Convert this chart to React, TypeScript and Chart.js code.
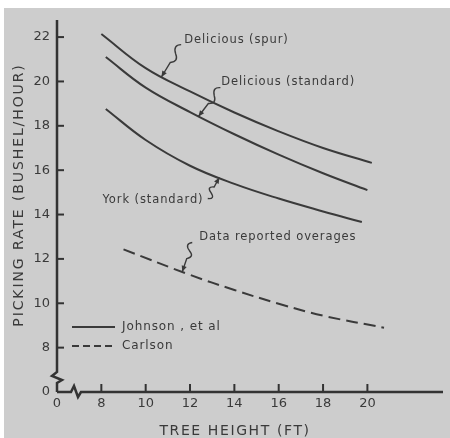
import React, { useEffect, useRef } from 'react';
import { Chart, registerables } from 'chart.js';

Chart.register(...registerables);

// ---- data (x = tree height ft, y = picking rate bushel/hour) ----
// value 6 on both axes stands for the "0" of the broken axes
const spurHeight = [8, 10, 12, 14, 16, 18, 20.2];
const spurRate = [22.14, 20.6, 19.55, 18.6, 17.75, 17.0, 16.33];
const standardHeight = [8.2, 10, 12, 14, 16, 18, 20];
const standardRate = [21.1, 19.72, 18.62, 17.62, 16.7, 15.86, 15.1];
const yorkHeight = [8.2, 10, 12, 14, 16, 18, 19.75];
const yorkRate = [18.76, 17.36, 16.2, 15.38, 14.72, 14.14, 13.66];
const carlsonHeight = [9, 12, 14, 16, 18, 20.75];
const carlsonRate = [12.43, 11.28, 10.6, 9.98, 9.44, 8.9];

const xTickValues = [6, 8, 10, 12, 14, 16, 18, 20];
const xTickLabels = ['0', '8', '10', '12', '14', '16', '18', '20'];
const yTickValues = [6, 8, 10, 12, 14, 16, 18, 20, 22];
const yTickLabels = ['0', '8', '10', '12', '14', '16', '18', '20', '22'];

const annotationTexts = ['Delicious (spur)', 'Delicious (standard)', 'York (standard)', 'Data reported overages'];
const legendTexts = ['Johnson , et al', 'Carlson'];
const xTitle = 'TREE HEIGHT (FT)';
const yTitle = 'PICKING RATE (BUSHEL/HOUR)';

// annotation placement (data coords): text left/middle, squiggle start, arrow tip
const annotationLayout = [
  { text: [11.74, 21.86], start: [11.6, 21.66], tip: [10.71, 20.2] },
  { text: [13.41, 19.97], start: [13.37, 19.72], tip: [12.38, 18.42] },
  { text: [8.05, 14.66], start: [12.8, 14.72], tip: [13.32, 15.67] },
  { text: [12.42, 13.0], start: [12.1, 12.74], tip: [11.65, 11.42] },
];

const INK = '#3a3a3a';
const FONT = '"DejaVu Sans", sans-serif';

function pts(xs: number[], ys: number[]) {
  return xs.map((x, i) => ({ x, y: ys[i] }));
}

const decorPlugin = {
  id: 'decor',
  beforeDraw(chart: any) {
    const { ctx, width, height } = chart;
    ctx.save();
    ctx.fillStyle = '#ffffff';
    ctx.fillRect(0, 0, width, height);
    ctx.fillStyle = '#cdcdcd';
    ctx.fillRect(4, 8, width - 4, height - 8);
    ctx.restore();
  },
  afterDraw(chart: any) {
    const { ctx, chartArea } = chart;
    const xs = chart.scales.x;
    const ys = chart.scales.y;
    const L = chartArea.left;
    const B = chartArea.bottom;
    ctx.save();
    ctx.strokeStyle = '#333333';
    ctx.lineCap = 'butt';
    ctx.lineJoin = 'miter';
    ctx.lineWidth = 2.5;
    // y axis with break
    ctx.beginPath();
    ctx.moveTo(L, chartArea.top);
    ctx.lineTo(L, B - 20);
    ctx.lineTo(L - 5, B - 16);
    ctx.lineTo(L + 5, B - 12);
    ctx.lineTo(L, B - 9);
    ctx.lineTo(L, B);
    ctx.stroke();
    // x axis with break
    ctx.beginPath();
    ctx.moveTo(L, B);
    ctx.lineTo(L + 14, B);
    ctx.lineTo(L + 17, B - 6);
    ctx.lineTo(L + 21, B + 5);
    ctx.lineTo(L + 24, B);
    ctx.lineTo(chartArea.right, B);
    ctx.stroke();
    // inward ticks
    ctx.lineWidth = 2;
    yTickValues.slice(1).forEach((v) => {
      const y = ys.getPixelForValue(v);
      ctx.beginPath();
      ctx.moveTo(L, y);
      ctx.lineTo(L + 7, y);
      ctx.stroke();
    });
    xTickValues.slice(1).forEach((v) => {
      const x = xs.getPixelForValue(v);
      ctx.beginPath();
      ctx.moveTo(x, B);
      ctx.lineTo(x, B - 8);
      ctx.stroke();
    });

    // titles
    ctx.fillStyle = INK;
    ctx.textBaseline = 'middle';
    ctx.textAlign = 'center';
    ctx.font = `14px ${FONT}`;
    (ctx as any).letterSpacing = '1.6px';
    ctx.fillText(xTitle, 235, 431);
    ctx.save();
    ctx.translate(19, 195);
    ctx.rotate(-Math.PI / 2);
    (ctx as any).letterSpacing = '1.9px';
    ctx.fillText(yTitle, 0, 0);
    ctx.restore();

    // annotations
    ctx.font = `11.5px ${FONT}`;
    (ctx as any).letterSpacing = '0.9px';
    ctx.textAlign = 'left';
    annotationLayout.forEach((a, i) => {
      const tx = xs.getPixelForValue(a.text[0]);
      const ty = ys.getPixelForValue(a.text[1]);
      ctx.fillText(annotationTexts[i], tx, ty);
      const sx = xs.getPixelForValue(a.start[0]);
      const sy = ys.getPixelForValue(a.start[1]);
      const px = xs.getPixelForValue(a.tip[0]);
      const py = ys.getPixelForValue(a.tip[1]);
      const dx = px - sx;
      const dy = py - sy;
      const len = Math.hypot(dx, dy);
      const ux = dx / len;
      const uy = dy / len;
      const nx = -uy;
      const ny = ux;
      ctx.lineWidth = 1.4;
      ctx.strokeStyle = INK;
      ctx.beginPath();
      ctx.moveTo(sx, sy);
      const p = (t: number, o: number) => [sx + ux * len * t + nx * o, sy + uy * len * t + ny * o];
      const c1 = p(0.12, 7);
      const m1 = p(0.28, 0);
      const c2 = p(0.42, -7);
      const m2 = p(0.55, 0);
      ctx.quadraticCurveTo(c1[0], c1[1], m1[0], m1[1]);
      ctx.quadraticCurveTo(c2[0], c2[1], m2[0], m2[1]);
      ctx.lineTo(px, py);
      ctx.stroke();
      // arrowhead
      const ah = 6;
      const aw = 2.6;
      ctx.fillStyle = INK;
      ctx.beginPath();
      ctx.moveTo(px, py);
      ctx.lineTo(px - ux * ah + nx * aw, py - uy * ah + ny * aw);
      ctx.lineTo(px - ux * ah - nx * aw, py - uy * ah - ny * aw);
      ctx.closePath();
      ctx.fill();
    });

    // legend
    ctx.font = `12px ${FONT}`;
    (ctx as any).letterSpacing = '0.9px';
    ctx.lineWidth = 1.8;
    ctx.strokeStyle = INK;
    ctx.beginPath();
    ctx.moveTo(L + 15, 327);
    ctx.lineTo(L + 58, 327);
    ctx.stroke();
    ctx.setLineDash([7, 4]);
    ctx.beginPath();
    ctx.moveTo(L + 15, 346);
    ctx.lineTo(L + 58, 346);
    ctx.stroke();
    ctx.setLineDash([]);
    ctx.fillStyle = INK;
    ctx.fillText(legendTexts[0], L + 65, 327);
    ctx.fillText(legendTexts[1], L + 65, 346);
    ctx.restore();
  },
};

export default function App() {
  const ref = useRef<HTMLCanvasElement | null>(null);
  useEffect(() => {
    document.body.style.margin = '0';
    const canvas = ref.current;
    if (!canvas) return;
    const lineStyle = {
      borderColor: INK,
      borderWidth: 2,
      pointRadius: 0,
      fill: false,
      tension: 0.4,
    };
    const chart = new Chart(canvas, {
      type: 'line',
      data: {
        datasets: [
          { label: 'Delicious (spur)', data: pts(spurHeight, spurRate), ...lineStyle },
          { label: 'Delicious (standard)', data: pts(standardHeight, standardRate), ...lineStyle },
          { label: 'York (standard)', data: pts(yorkHeight, yorkRate), ...lineStyle },
          { label: 'Carlson', data: pts(carlsonHeight, carlsonRate), ...lineStyle, borderDash: [12, 6] },
        ],
      },
      options: {
        responsive: false,
        animation: false,
        layout: { padding: { top: 20, right: 7, left: 0, bottom: 0 } },
        plugins: { legend: { display: false }, tooltip: { enabled: false }, title: { display: false } },
        scales: {
          x: {
            type: 'linear',
            min: 6,
            max: 23.41,
            afterFit: (s: any) => { s.height = 46; },
            afterBuildTicks: (s: any) => { s.ticks = xTickValues.map((v) => ({ value: v })); },
            ticks: {
              autoSkip: false,
              maxRotation: 0,
              padding: 4,
              color: INK,
              font: { family: FONT, size: 13 },
              callback: (_v: any, i: number) => xTickLabels[i],
            },
            grid: { display: false, drawTicks: false },
            border: { display: false },
          },
          y: {
            type: 'linear',
            min: 6,
            max: 22.77,
            afterFit: (s: any) => { s.width = 57; },
            afterBuildTicks: (s: any) => { s.ticks = yTickValues.map((v) => ({ value: v })); },
            ticks: {
              autoSkip: false,
              padding: 7,
              color: INK,
              font: { family: FONT, size: 13 },
              callback: (_v: any, i: number) => yTickLabels[i],
            },
            grid: { display: false, drawTicks: false },
            border: { display: false },
          },
        },
      },
      plugins: [decorPlugin],
    });
    return () => chart.destroy();
  }, []);
  return (
    <div style={{ width: 450, height: 438 }}>
      <canvas ref={ref} width={450} height={438} />
    </div>
  );
}
